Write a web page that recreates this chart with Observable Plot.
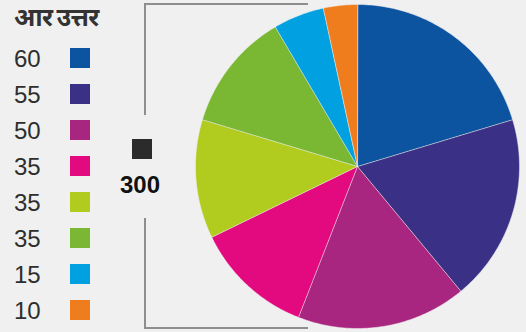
<!DOCTYPE html>
<html><head><meta charset="utf-8">
<script src="https://cdn.jsdelivr.net/npm/d3@7"></script>
<script src="https://cdn.jsdelivr.net/npm/@observablehq/plot@0.6"></script>
<style>
html,body{margin:0;padding:0;background:#f0f0f0;}
#wrap{position:relative;width:526px;height:332px;overflow:hidden;font-family:"Liberation Sans",Arial,sans-serif;color:#2e2e2e;}
#wrap svg{position:absolute;left:0;top:0;}
.title{position:absolute;left:14px;top:4px;font-family:"Noto Sans Devanagari","Noto Sans","Lohit Devanagari",sans-serif;font-weight:bold;font-size:25px;line-height:32px;color:#333;letter-spacing:-0.6px;word-spacing:-2px;}
.num{position:absolute;left:14px;font-size:24px;line-height:24px;color:#2e2e2e;}
.sw{position:absolute;left:70px;width:20px;height:20px;}
.ln{position:absolute;background:#8e8e8e;}
.tot{position:absolute;left:120px;top:172px;font-size:24px;font-weight:bold;color:#111;line-height:26px;}
.totsq{position:absolute;left:132px;top:139px;width:20px;height:20px;background:#2b2b2b;}
</style></head><body><div id="wrap"></div>
<script>
const legendTitle = "आर उत्तर";
const values = [60, 55, 50, 35, 35, 35, 15, 10];
const colors = ["#0d54a0", "#3a3186", "#a8267f", "#e3097f", "#b1cb1f", "#7ab833", "#00a0e1", "#ef7d1e"];
const totalLabel = "300";

const wrap = document.getElementById("wrap");

// pie geometry from d3.pie
const arcs = d3.pie().sort(null).value(d => d)(values);
const pts = [];
arcs.forEach((a, i) => {
  pts.push({k: i, x: 0, y: 0});
  const n = Math.max(2, Math.ceil((a.endAngle - a.startAngle) / (Math.PI / 180)));
  for (let j = 0; j <= n; j++) {
    const t = a.startAngle + (a.endAngle - a.startAngle) * j / n;
    pts.push({k: i, x: Math.sin(t), y: Math.cos(t)});
  }
});

const chart = Plot.plot({
  width: 526, height: 332,
  margin: 0,
  style: {background: "transparent"},
  x: {domain: [-1, 1], range: [195, 519], axis: null},
  y: {domain: [-1, 1], range: [328, 4], axis: null},
  color: {domain: d3.range(values.length), range: colors},
  marks: [
    Plot.line(pts, {x: "x", y: "y", z: "k", fill: "k", stroke: "#f0f0f0", strokeWidth: 0.5, curve: "linear-closed"})
  ]
});
wrap.appendChild(chart);

// legend
const t = document.createElement("div");
t.className = "title"; t.textContent = legendTitle; wrap.appendChild(t);
values.forEach((v, i) => {
  const top = 48 + i * 36;
  const n = document.createElement("div");
  n.className = "num"; n.textContent = v; n.style.top = (top - 1) + "px"; wrap.appendChild(n);
  const s = document.createElement("div");
  s.className = "sw"; s.style.top = top + "px"; s.style.background = colors[i]; wrap.appendChild(s);
});

// bracket
function line(l, tp, w, h) { const d = document.createElement("div"); d.className = "ln"; Object.assign(d.style, {left: l + "px", top: tp + "px", width: w + "px", height: h + "px"}); wrap.appendChild(d); }
line(144, 3, 2, 112);
line(144, 218, 2, 111);
line(144, 3, 164, 1.5);
line(144, 327, 164, 1.5);
const sq = document.createElement("div"); sq.className = "totsq"; wrap.appendChild(sq);
const tot = document.createElement("div"); tot.className = "tot"; tot.textContent = totalLabel; wrap.appendChild(tot);
</script>
</body></html>
